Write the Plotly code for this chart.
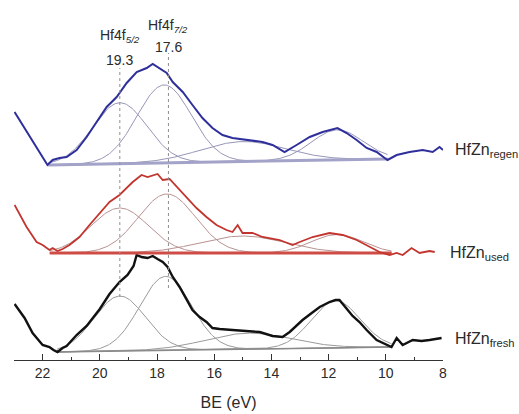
import numpy as np
import plotly.graph_objects as go

# ---------------- data ----------------
# binding energies (eV) and intensities (a.u., relative to each spectrum's offset)
fresh_be = [22.98, 22.63, 22.35, 22.0, 21.76, 21.62, 21.48, 21.30, 21.16, 21.06, 20.81, 20.46,
            20.0, 19.66, 19.31, 19.03, 18.82, 18.71, 18.54, 18.33, 18.15, 17.98, 17.80, 17.63,
            17.45, 17.21, 16.97, 16.76, 16.51, 16.27, 16.06, 15.81, 15.36, 14.94, 14.41, 13.96,
            13.61, 13.36, 13.12, 12.91, 12.59, 12.31, 11.97, 11.76, 11.62, 11.41, 11.16, 10.92,
            10.67, 10.32, 10.04, 9.80, 9.62, 9.41, 9.06, 8.75, 8.47, 8.22, 8.05]
fresh_int = [56, 42, 27, 15, 13, 10, 8, 12, 14, 17, 25, 34,
             51, 66, 78, 85, 94, 105, 103, 102, 104, 101, 98, 93,
             83, 73, 60, 50, 43, 38, 32, 31, 30, 29, 28, 24,
             23, 28, 34, 40, 47, 53, 58, 60, 60, 53, 44, 38,
             30, 20, 16, 13, 22, 15, 20, 19, 20, 21, 22]

used_be = [22.98, 22.56, 22.21, 22.0, 21.76, 21.65, 21.48, 21.30, 21.06, 20.71, 20.36, 20.0,
           19.66, 19.31, 19.06, 18.85, 18.54, 18.33, 17.98, 17.80, 17.56, 17.31, 16.97, 16.62,
           16.27, 15.92, 15.57, 15.36, 15.18, 15.01, 14.66, 14.31, 13.71, 13.26, 13.01, 12.56,
           11.97, 11.51, 11.02, 10.57, 10.22, 9.87, 9.62, 9.41, 9.10, 8.82, 8.47, 8.29]
used_int = [55, 33, 18, 15, 10, 12, 9, 11, 15, 23, 35, 47,
            58, 65, 72, 78, 85, 83, 86, 80, 81, 73, 63, 52,
            43, 35, 30, 28, 35, 27, 27, 23, 20, 15, 18, 23,
            27, 25, 20, 13, 8, 5, 7, 5, 12, 7, 9, 8]

regen_be = [22.98, 22.70, 22.35, 22.0, 21.83, 21.65, 21.41, 21.16, 20.81, 20.46, 20.11, 19.76,
            19.41, 19.06, 18.71, 18.36, 18.15, 17.91, 17.66, 17.45, 17.10, 16.76, 16.41, 16.06,
            15.71, 15.36, 14.87, 14.31, 13.96, 13.54, 13.12, 12.66, 12.21, 11.97, 11.69, 11.37,
            11.02, 10.67, 10.32, 10.04, 9.94, 9.62, 9.17, 8.71, 8.36, 8.12, 8.0]
regen_int = [58, 45, 30, 13, 5, 10, 12, 13, 20, 33, 48, 63,
             73, 87, 98, 102, 106, 102, 97, 88, 78, 65, 52, 42,
             35, 32, 30, 28, 25, 18, 25, 33, 38, 40, 42, 37,
             30, 22, 18, 12, 10, 15, 18, 20, 18, 23, 20]

# vertical offsets of the stacked spectra
offsets = {"fresh": 0, "used": 100, "regen": 190}

# linear background: [BE start, BE end], [intensity start, intensity end]
baseline_be = {"fresh": [21.5, 9.8], "used": [21.75, 9.8], "regen": [21.8, 9.94]}
baseline_int = {"fresh": [8, 13], "used": [7, 7], "regen": [5, 11]}

# fitted Gaussian components: centre (eV), height (a.u.), sigma (eV)
comp_center = {"fresh": [19.3, 17.7, 14.8, 11.75], "used": [19.3, 17.65, 15.0, 11.7],
               "regen": [19.3, 17.75, 15.0, 11.7]}
comp_height = {"fresh": [55, 74, 16, 47], "used": [45, 59, 17, 18.5], "regen": [61, 78, 20, 30]}
comp_sigma = {"fresh": [0.9, 0.9, 1.5, 0.85], "used": [1.0, 1.0, 1.5, 0.9],
              "regen": [0.95, 0.95, 1.5, 0.9]}

peak_positions = [19.3, 17.6]
peak_names = ["Hf4f<sub><i>5/2</i></sub>", "Hf4f<sub><i>7/2</i></sub>"]
sample_names = {"regen": "HfZn<sub>regen</sub>", "used": "HfZn<sub>used</sub>",
                "fresh": "HfZn<sub>fresh</sub>"}

tick_vals = [22, 20, 18, 16, 14, 12, 10, 8]

# ---------------- styles ----------------
line_col = {"regen": "#2f2f9c", "used": "#c2352e", "fresh": "#111111"}
comp_col = {"regen": "#9696b8", "used": "#b99292", "fresh": "#9a9a9a"}
base_col = {"regen": "#a3a3c9", "used": "#cf4c46", "fresh": "#8a8a8a"}
base_w = {"regen": 3, "used": 3, "fresh": 1.5}
data_w = {"regen": 2, "used": 1.8, "fresh": 2.4}
spectra = {"fresh": (fresh_be, fresh_int), "used": (used_be, used_int),
           "regen": (regen_be, regen_int)}

fig = go.Figure()

for key in ["fresh", "used", "regen"]:
    off = offsets[key]
    b0, b1 = baseline_be[key]
    grid = np.linspace(b0, b1, 300)
    bl = np.interp(grid, [b1, b0], [baseline_int[key][1], baseline_int[key][0]])
    # components
    for c, h, s in zip(comp_center[key], comp_height[key], comp_sigma[key]):
        g = h * np.exp(-(grid - c) ** 2 / (2 * s ** 2))
        fig.add_trace(go.Scatter(x=grid, y=bl + g + off, mode="lines",
                                 line=dict(color=comp_col[key], width=1),
                                 hoverinfo="skip"))
    # baseline
    fig.add_trace(go.Scatter(x=grid, y=bl + off, mode="lines",
                             line=dict(color=base_col[key], width=base_w[key]),
                             hoverinfo="skip"))
    # measured spectrum
    be, it = spectra[key]
    fig.add_trace(go.Scatter(x=be, y=np.array(it) + off, mode="lines",
                             line=dict(color=line_col[key], width=data_w[key])))

# dotted guide lines at the peak positions
dot_top = [292, 307]
dot_bot = [63, 72]
for pos, t, b in zip(peak_positions, dot_top, dot_bot):
    fig.add_shape(type="line", x0=pos, x1=pos, y0=b, y1=t, xref="x", yref="y",
                  line=dict(color="#8f8f8f", width=1, dash="dot"))

txt = dict(family="Liberation Sans, Arial, sans-serif", color="#2a2a2a")
name_y = [324, 334]
val_y = [300, 313]
for pos, nm, ny, vy in zip(peak_positions, peak_names, name_y, val_y):
    fig.add_annotation(x=pos, y=ny, text=nm, showarrow=False, xref="x", yref="y",
                       font=dict(size=14, **txt), xanchor="center", yanchor="middle")
    fig.add_annotation(x=pos, y=vy, text=f"{pos:.1f}", showarrow=False, xref="x", yref="y",
                       font=dict(size=14, **txt), xanchor="center", yanchor="middle")

label_y = {"regen": 210, "used": 107, "fresh": 21}
label_x = {"regen": 1.023, "used": 1.011, "fresh": 1.023}
for key in ["regen", "used", "fresh"]:
    fig.add_annotation(x=label_x[key], y=label_y[key], xref="paper", yref="y",
                       text=sample_names[key], showarrow=False, xanchor="left",
                       yanchor="middle", font=dict(size=16, **txt))

fig.update_xaxes(range=[23, 8], tickvals=tick_vals, ticks="inside", ticklen=6,
                 tickwidth=1.2, tickcolor="#333", showline=True, linecolor="#333",
                 linewidth=1.2, showgrid=False, zeroline=False,
                 tickfont=dict(size=14, **txt),
                 minor=dict(dtick=1, tick0=8, ticks="inside", ticklen=3,
                            tickcolor="#333", tickwidth=1.2, showgrid=False),
                 title=dict(text="BE (eV)", font=dict(size=16, **txt), standoff=16))
fig.update_yaxes(range=[0, 360], visible=False)

fig.update_layout(width=519, height=414, margin=dict(l=14, r=76, t=0, b=54),
                  plot_bgcolor="white", paper_bgcolor="white", showlegend=False)

fig.write_html("out.html")
